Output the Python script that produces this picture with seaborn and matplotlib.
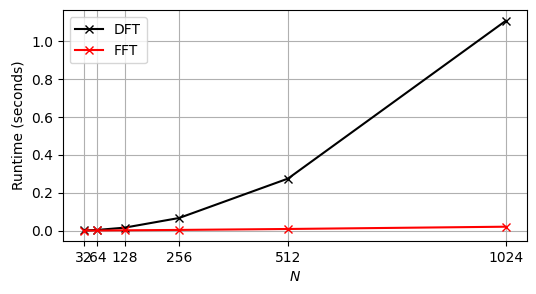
import matplotlib
matplotlib.use("Agg")
import matplotlib.pyplot as plt
import seaborn as sns
import pandas as pd

N = [32, 64, 128, 256, 512, 1024]
dft_runtime = [0.001, 0.004, 0.016, 0.067, 0.275, 1.108]
fft_runtime = [0.0005, 0.001, 0.002, 0.004, 0.009, 0.021]

fig, ax = plt.subplots(figsize=(5.36, 2.94), dpi=100)
for label, vals, col in [("DFT", dft_runtime, "black"), ("FFT", fft_runtime, "red")]:
    sns.lineplot(x=N, y=vals, color=col, marker="x", markersize=6,
                 markeredgewidth=1.0, markeredgecolor=col, linewidth=1.5,
                 label=label, ax=ax)
ax.set_xticks(N)
ax.set_xticklabels([str(n) for n in N])
ax.set_xlabel("$N$")
ax.set_ylabel("Runtime (seconds)")
ax.grid(True, color="#b0b0b0", linewidth=0.8)
ax.legend(loc="upper left")
fig.subplots_adjust(left=0.117, right=0.983, top=0.965, bottom=0.18)
fig.savefig("out.png", dpi=100)
